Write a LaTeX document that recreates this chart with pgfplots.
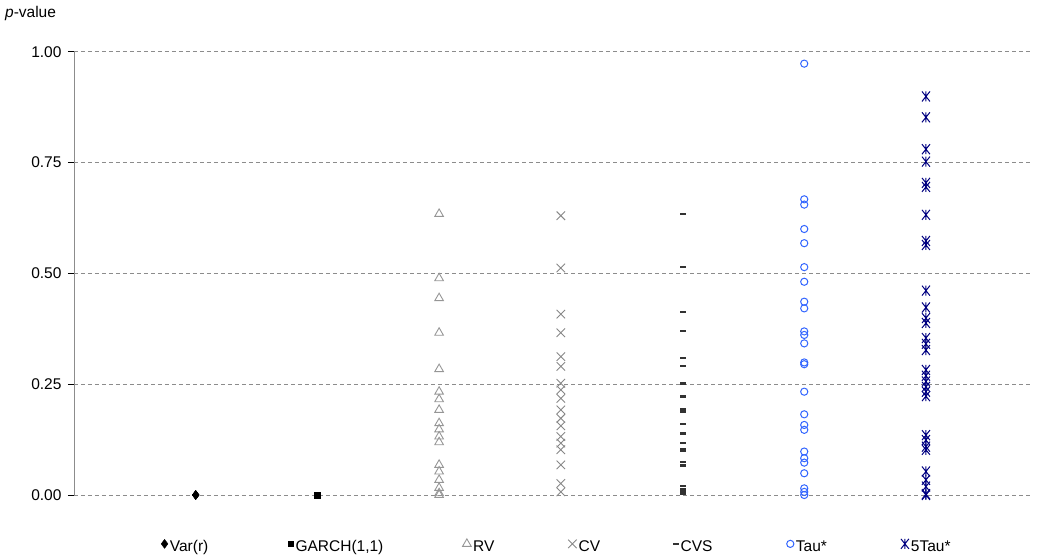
\documentclass[border=0pt]{standalone}
\usepackage{fontspec}
\setmainfont{Liberation Sans}
\usepackage{pgfplots}
\pgfplotsset{compat=1.18}
\definecolor{rvgray}{RGB}{150,150,150}
\definecolor{cvgray}{RGB}{135,135,135}
\definecolor{cvsgray}{RGB}{50,50,50}
\definecolor{taublue}{RGB}{51,102,255}
\definecolor{navyb}{RGB}{0,0,128}
\definecolor{gridgray}{RGB}{140,140,140}
\pgfdeclareplotmark{xstar}{%
  \pgfpathmoveto{\pgfpoint{-0.8\pgfplotmarksize}{-\pgfplotmarksize}}%
  \pgfpathlineto{\pgfpoint{0.8\pgfplotmarksize}{\pgfplotmarksize}}%
  \pgfpathmoveto{\pgfpoint{-0.8\pgfplotmarksize}{\pgfplotmarksize}}%
  \pgfpathlineto{\pgfpoint{0.8\pgfplotmarksize}{-\pgfplotmarksize}}%
  \pgfpathmoveto{\pgfpoint{0pt}{-\pgfplotmarksize}}%
  \pgfpathlineto{\pgfpoint{0pt}{\pgfplotmarksize}}%
  \pgfusepathqstroke}
\newcommand{\chartfont}{\fontsize{15.5}{18}\selectfont}
\begin{document}
\begin{tikzpicture}
\begin{axis}[
  scale only axis, width=956pt, height=443.3pt,
  xmin=0, xmax=7.855, ymin=0, ymax=1,
  clip=false,
  axis y line*=left, axis x line*=bottom,
  x axis line style={draw=none},
  y axis line style={-, draw=gridgray, line width=0.75pt},
  xtick=\empty,
  ytick={0,0.25,0.5,0.75,1},
  /pgf/number format/assume math mode=true,
  yticklabel style={/pgf/number format/fixed, /pgf/number format/fixed zerofill, /pgf/number format/precision=2, xshift=-3pt, font=\chartfont},
  ymajorgrids,
  major grid style={draw=gridgray, dash pattern=on 4pt off 3pt, line width=0.75pt},
  tick align=outside, major tick length=6pt,
  ytick style={black, line width=0.75pt},
  legend columns=7,
  legend cell align=left,
  legend style={draw=none, fill=none, inner sep=0pt, at={(0.091,-0.117)}, anchor=west, font=\chartfont, nodes={inner sep=2pt}, /tikz/every even column/.append style={column sep=0pt}},
  legend image code/.code={\draw[#1] plot coordinates {(0pt,3pt)};},
]
\addplot[only marks, mark=diamond*, mark size=4.5pt, color=black] coordinates {(1,0) (1,0) (1,0)};
\addlegendentry{\makebox[116pt][l]{Var(r)}}
\addplot[only marks, mark=square*, mark size=2.8pt, color=black] coordinates {(2,0) (2,0) (2,0)};
\addlegendentry{\makebox[165pt][l]{GARCH(1,1)}}
\addplot[only marks, mark=triangle, mark size=5pt, color=rvgray, mark options={line width=0.9pt}] coordinates {
(3,0.634) (3,0.489) (3,0.444) (3,0.366) (3,0.284) (3,0.233) (3,0.216) (3,0.192) (3,0.162)
(3,0.148) (3,0.132) (3,0.119) (3,0.068) (3,0.053) (3,0.034) (3,0.016) (3,0.004) (3,0.000)};
\addlegendentry{\makebox[93pt][l]{RV}}
\addplot[only marks, mark=x, mark size=6pt, color=cvgray, mark options={line width=0.9pt}] coordinates {
(4,0.630) (4,0.512) (4,0.408) (4,0.366) (4,0.312) (4,0.290) (4,0.252) (4,0.237) (4,0.218)
(4,0.192) (4,0.173) (4,0.156) (4,0.132) (4,0.117) (4,0.102) (4,0.068) (4,0.026) (4,0.007)};
\addlegendentry{\makebox[92pt][l]{CV}}
\addplot[only marks, mark=-, mark size=3pt, color=cvsgray, mark options={line width=2.6pt}] coordinates {
(5,0.634) (5,0.514) (5,0.413) (5,0.370) (5,0.309) (5,0.291) (5,0.251) (5,0.222) (5,0.193)
(5,0.189) (5,0.160) (5,0.139) (5,0.117) (5,0.104) (5,0.099) (5,0.074) (5,0.066) (5,0.020)
(5,0.013) (5,0.005) (5,0.002)};
\addlegendentry{\makebox[104pt][l]{CVS}}
\addplot[only marks, mark=o, mark size=3.6pt, color=taublue, mark options={line width=1pt}] coordinates {
(6,0.973) (6,0.667) (6,0.655) (6,0.600) (6,0.568) (6,0.514) (6,0.481) (6,0.436) (6,0.421)
(6,0.369) (6,0.361) (6,0.342) (6,0.299) (6,0.295) (6,0.233) (6,0.182) (6,0.158) (6,0.147)
(6,0.098) (6,0.083) (6,0.073) (6,0.049) (6,0.015) (6,0.007) (6,0.000)};
\addlegendentry{\makebox[103pt][l]{Tau*}}
\addplot[only marks, mark=xstar, mark size=5pt, color=navyb, mark options={line width=1pt}] coordinates {
(7,0.899) (7,0.852) (7,0.780) (7,0.752) (7,0.704) (7,0.695) (7,0.632) (7,0.573) (7,0.564)
(7,0.461) (7,0.423) (7,0.399) (7,0.388) (7,0.354) (7,0.341) (7,0.327) (7,0.282) (7,0.269)
(7,0.256) (7,0.244) (7,0.233) (7,0.223) (7,0.135) (7,0.124) (7,0.109) (7,0.102) (7,0.053)
(7,0.034) (7,0.019) (7,0.002) (7,0.000)};
\addlegendentry{5Tau*}
\node[anchor=base west, inner sep=0pt, font=\chartfont] at (rel axis cs:-0.0722,1.078) {\textit{p}-value};
\path (rel axis cs:-0.0774,-0.1466) rectangle (rel axis cs:1.0115,1.1166);
\end{axis}
\end{tikzpicture}
\end{document}
